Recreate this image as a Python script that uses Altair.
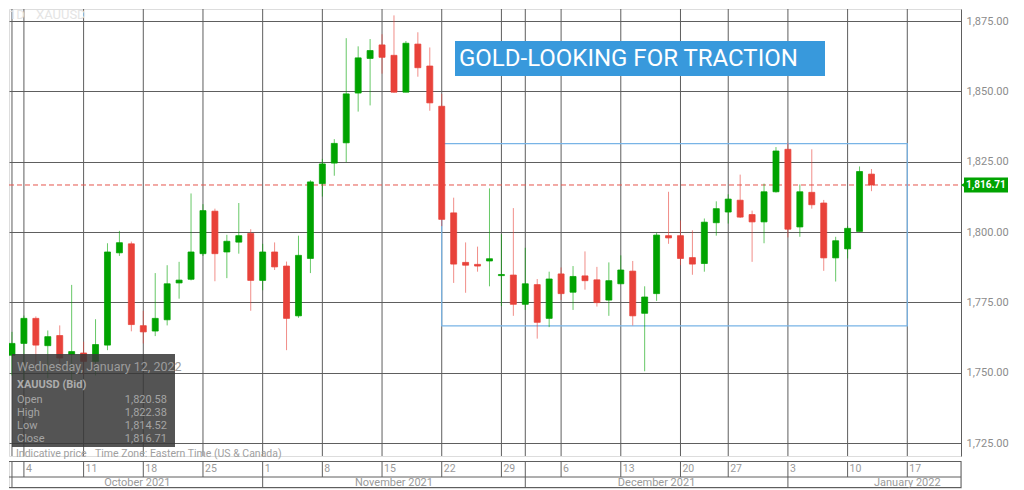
import altair as alt
import pandas as pd

# ---------------- data ----------------
dates = ["2021-09-30", "2021-10-01", "2021-10-04", "2021-10-05", "2021-10-06", "2021-10-07", "2021-10-08",
         "2021-10-11", "2021-10-12", "2021-10-13", "2021-10-14", "2021-10-15",
         "2021-10-18", "2021-10-19", "2021-10-20", "2021-10-21", "2021-10-22",
         "2021-10-25", "2021-10-26", "2021-10-27", "2021-10-28", "2021-10-29",
         "2021-11-01", "2021-11-02", "2021-11-03", "2021-11-04", "2021-11-05",
         "2021-11-08", "2021-11-09", "2021-11-10", "2021-11-11", "2021-11-12",
         "2021-11-15", "2021-11-16", "2021-11-17", "2021-11-18", "2021-11-19",
         "2021-11-22", "2021-11-23", "2021-11-24", "2021-11-25", "2021-11-26",
         "2021-11-29", "2021-11-30", "2021-12-01", "2021-12-02", "2021-12-03",
         "2021-12-06", "2021-12-07", "2021-12-08", "2021-12-09", "2021-12-10",
         "2021-12-13", "2021-12-14", "2021-12-15", "2021-12-16", "2021-12-17",
         "2021-12-20", "2021-12-21", "2021-12-22", "2021-12-23",
         "2021-12-27", "2021-12-28", "2021-12-29", "2021-12-30", "2021-12-31",
         "2022-01-03", "2022-01-04", "2022-01-05", "2022-01-06", "2022-01-07",
         "2022-01-10", "2022-01-11", "2022-01-12"]
opens = [1726.0, 1756.2, 1760.4, 1769.3, 1759.6, 1763.2, 1756.5,
         1757.0, 1754.0, 1759.8, 1792.6, 1795.8,
         1766.7, 1764.8, 1768.8, 1781.9, 1783.2,
         1792.3, 1807.4, 1792.9, 1796.4, 1799.5,
         1782.8, 1792.9, 1787.9, 1770.2, 1790.6,
         1817.2, 1824.5, 1831.7, 1849.4, 1861.7,
         1866.5, 1862.8, 1849.7, 1866.8, 1859.0,
         1844.7, 1806.8, 1789.2, 1788.5, 1789.7,
         1784.5, 1784.7, 1774.3, 1781.3, 1769.3,
         1785.1, 1778.6, 1784.4, 1783.0, 1775.8,
         1781.6, 1786.1, 1771.1, 1778.1, 1798.7,
         1798.7, 1790.9, 1788.8, 1803.3,
         1807.1, 1811.3, 1806.2, 1803.6, 1814.3,
         1829.4, 1801.8, 1814.1, 1810.3, 1790.8,
         1794.0, 1800.2, 1820.58]
highs = [1764.0, 1764.5, 1770.3, 1770.0, 1765.0, 1766.8, 1781.2,
         1761.0, 1769.0, 1796.0, 1800.4, 1796.6,
         1772.0, 1785.4, 1788.2, 1789.4, 1813.7,
         1809.9, 1808.3, 1799.0, 1810.3, 1801.0,
         1795.8, 1796.3, 1789.5, 1798.7, 1818.4,
         1826.0, 1833.0, 1868.9, 1866.0, 1868.6,
         1870.3, 1877.0, 1867.9, 1871.0, 1865.6,
         1849.1, 1812.2, 1796.3, 1794.8, 1815.5,
         1799.2, 1808.5, 1794.4, 1783.3, 1785.9,
         1787.4, 1787.9, 1793.1, 1787.6, 1789.2,
         1791.7, 1789.7, 1780.7, 1799.7, 1814.3,
         1804.1, 1800.6, 1804.8, 1810.9,
         1813.4, 1820.4, 1807.6, 1817.2, 1830.2,
         1831.7, 1816.9, 1829.4, 1811.4, 1798.3,
         1802.1, 1823.3, 1822.38]
lows = [1721.0, 1749.0, 1746.0, 1751.0, 1748.0, 1751.0, 1746.0,
        1749.0, 1749.0, 1758.0, 1791.5, 1764.7,
        1760.4, 1763.0, 1766.8, 1776.3, 1782.8,
        1791.5, 1782.5, 1783.6, 1792.3, 1772.0,
        1779.3, 1786.5, 1758.0, 1769.5, 1785.4,
        1812.6, 1820.0, 1824.8, 1842.8, 1845.0,
        1856.3, 1849.5, 1849.7, 1855.2, 1843.1,
        1802.1, 1781.9, 1778.4, 1785.9, 1780.7,
        1773.7, 1770.2, 1772.3, 1762.1, 1766.2,
        1775.8, 1772.3, 1779.5, 1773.5, 1770.2,
        1781.6, 1766.8, 1750.5, 1775.5, 1795.8,
        1788.2, 1784.8, 1785.9, 1798.7,
        1803.0, 1805.0, 1789.4, 1796.0, 1814.0,
        1798.1, 1798.3, 1808.3, 1786.2, 1782.4,
        1790.6, 1800.2, 1814.52]
closes = [1757.0, 1760.4, 1769.3, 1759.8, 1762.8, 1755.2, 1757.5,
          1754.0, 1760.0, 1792.9, 1796.2, 1767.1,
          1764.5, 1769.3, 1781.6, 1782.9, 1792.9,
          1807.6, 1792.3, 1796.7, 1798.7, 1782.8,
          1792.9, 1787.6, 1769.3, 1791.7, 1817.8,
          1824.2, 1831.5, 1849.1, 1861.9, 1864.5,
          1862.1, 1849.7, 1867.1, 1858.4, 1845.9,
          1804.5, 1788.6, 1788.2, 1787.9, 1790.5,
          1784.9, 1774.3, 1781.6, 1767.9, 1783.3,
          1778.1, 1784.2, 1782.7, 1774.9, 1782.7,
          1786.5, 1770.2, 1776.9, 1798.9, 1797.9,
          1790.6, 1788.6, 1803.5, 1808.3,
          1811.7, 1805.3, 1803.6, 1814.3, 1828.8,
          1801.0, 1814.3, 1809.7, 1790.8, 1796.9,
          1801.3, 1821.5, 1816.71]

# x-axis (trading-day index) ticks and labels
tick_pos = [2, 7, 12, 17, 22, 27, 32, 37, 42, 47, 52, 57, 61, 66, 71, 76, 81]
tick_text = ["4", "11", "18", "25", "1", "8", "15", "22", "29", "6", "13", "20", "27", "3", "10", "17", "24"]
month_bounds = [1, 22, 44, 66]
month_names = ["October 2021", "November 2021", "December 2021", "January 2022"]
month_label_pos = [11.5, 33, 55, 76]
y_ticks = [1725, 1750, 1775, 1800, 1825, 1850, 1875]

# highlighted consolidation range
box_x = [37, 76]
box_y = [1766.6, 1831.4]

# ---------------- styling ----------------
W, H = 952, 447
STRIP_H = 27
XDOM = [0.75, 80.5]
YDOM = [1720.38, 1879.27]
GREEN = "#00a300"
RED = "#e8423a"
GRID = "#5e5e5e"
FONT = "Roboto"

df = pd.DataFrame({"i": list(range(len(dates))), "date": dates,
                   "open": opens, "high": highs, "low": lows, "close": closes})
df["dir"] = ["up" if c >= o else "down" for o, c in zip(opens, closes)]

xs = alt.Scale(domain=XDOM, nice=False, zero=False, padding=0)
ys = alt.Scale(domain=YDOM, nice=False, zero=False, padding=0)
col = alt.Color("dir:N", scale=alt.Scale(domain=["up", "down"], range=[GREEN, RED]), legend=None)
one = pd.DataFrame({"a": [0]})

yaxis = alt.Axis(orient="right", values=y_ticks, format=",.2f", grid=True, gridColor=GRID,
                 gridWidth=1, gridOpacity=1, domain=True, domainColor=GRID, ticks=False,
                 labelPadding=5, labelColor="#8c8c8c", labelFont=FONT, labelFontSize=11, title=None)


def X(field):
    return alt.X(field, scale=xs, axis=None)


def Y(field):
    return alt.Y(field, scale=ys, axis=yaxis)


# vertical grid lines (Mondays + month starts)
vgrid = alt.Chart(pd.DataFrame({"g": tick_pos + [1, 44]})).mark_rule(
    color=GRID, strokeWidth=1, clip=True).encode(
    x=X("g:Q"), y=alt.value(0), y2=alt.value(H))

last_close = closes[-1]
price_df = pd.DataFrame({"p": [last_close], "t": [f"{last_close:,.2f}"]})

price_line = alt.Chart(price_df).mark_rule(color="#e5544c", strokeDash=[5, 3], strokeWidth=1).encode(
    y=Y("p:Q"), x=alt.value(0), x2=alt.value(W))

range_box = alt.Chart(pd.DataFrame({"x1": [box_x[0]], "x2": [box_x[1]], "y1": [box_y[0]], "y2": [box_y[1]]})
                      ).mark_rect(fillOpacity=0, stroke="#78b4e6", strokeWidth=1.2).encode(
    x=X("x1:Q"), x2="x2:Q", y=Y("y1:Q"), y2="y2:Q")

wicks = alt.Chart(df).mark_rule(strokeWidth=1, opacity=0.6, clip=True).encode(
    x=X("i:Q"), y=Y("low:Q"), y2="high:Q", color=col)

bodies = alt.Chart(df).mark_bar(size=6, clip=True, strokeWidth=1, strokeOpacity=0.75).encode(
    x=X("i:Q"), y=Y("open:Q"), y2="close:Q", color=col, stroke=col)

# title banner
title_box = alt.Chart(one).mark_rect(color="#3899dc").encode(
    x=alt.value(446), x2=alt.value(816), y=alt.value(32), y2=alt.value(67))
title_txt = alt.Chart(one).mark_text(text="GOLD-LOOKING FOR TRACTION", font=FONT, fontSize=24,
                                     color="white", align="left", baseline="middle").encode(
    x=alt.value(450), y=alt.value(50))

# info panel
tip_box = alt.Chart(one).mark_rect(color="#383838", opacity=0.86).encode(
    x=alt.value(3), x2=alt.value(166), y=alt.value(345), y2=alt.value(438))
tip_layers = [
    alt.Chart(one).mark_text(text="Wednesday, January 12, 2022", font=FONT, fontSize=12.5,
                             color="#9c9c9c", align="left", baseline="middle").encode(
        x=alt.value(8), y=alt.value(358)),
    alt.Chart(one).mark_text(text="XAUUSD (Bid)", font=FONT, fontSize=11, fontWeight="bold",
                             color="#acacac", align="left", baseline="middle").encode(
        x=alt.value(8), y=alt.value(376)),
]
tip_labels = ["Open", "High", "Low", "Close"]
tip_vals = [f"{v:,.2f}" for v in (opens[-1], highs[-1], lows[-1], closes[-1])]
for k, (lab, val) in enumerate(zip(tip_labels, tip_vals)):
    yy = 391 + 13 * k
    tip_layers.append(alt.Chart(one).mark_text(text=lab, font=FONT, fontSize=11, color="#a4a4a4",
                                               align="left", baseline="middle").encode(
        x=alt.value(8), y=alt.value(yy)))
    tip_layers.append(alt.Chart(one).mark_text(text=val, font=FONT, fontSize=11, color="#a4a4a4",
                                               align="right", baseline="middle").encode(
        x=alt.value(158), y=alt.value(yy)))

foot1 = alt.Chart(one).mark_text(text="Indicative price", font=FONT, fontSize=10.5, color="#a0a0a0",
                                 align="left", baseline="middle").encode(x=alt.value(7), y=alt.value(445))
foot2 = alt.Chart(one).mark_text(text="Time Zone: Eastern Time (US & Canada)", font=FONT, fontSize=10.5,
                                 color="#a0a0a0", align="left", baseline="middle").encode(
    x=alt.value(86), y=alt.value(445))

sym1 = alt.Chart(one).mark_text(text="1D", font=FONT, fontSize=13, color="#e4e4e4",
                                align="left", baseline="middle").encode(x=alt.value(0), y=alt.value(6))
sym2 = alt.Chart(one).mark_text(text="XAUUSD", font=FONT, fontSize=13, color="#e4e4e4",
                                align="left", baseline="middle").encode(x=alt.value(27), y=alt.value(6))

# last-price tag on the axis
tag_bar = alt.Chart(price_df).mark_rule(color=GREEN, strokeWidth=15).encode(
    y=Y("p:Q"), x=alt.value(W + 3), x2=alt.value(W + 47))
tag_arrow = alt.Chart(price_df).mark_point(shape="triangle-left", filled=True, size=24,
                                           color=GREEN, opacity=1).encode(
    y=Y("p:Q"), x=alt.value(W + 2))
tag_txt = alt.Chart(price_df).mark_text(font=FONT, fontSize=10, fontWeight="bold", color="white",
                                        align="left", baseline="middle").encode(
    y=Y("p:Q"), x=alt.value(W + 5), text="t:N")

top = alt.layer(vgrid, price_line, range_box, wicks, bodies, title_box, title_txt,
                tip_box, *tip_layers, foot1, foot2, sym1, sym2,
                tag_bar, tag_arrow, tag_txt).properties(width=W, height=H)

# ---------------- bottom date strip ----------------
ROW1 = 16
hl = [alt.Chart(one).mark_rule(color=GRID, strokeWidth=1).encode(
    x=alt.value(0), x2=alt.value(W), y=alt.value(v)) for v in (0.5, ROW1, STRIP_H - 0.5)]
tick_df = pd.DataFrame({"pos": tick_pos, "lab": tick_text})
row1_rules = alt.Chart(pd.DataFrame({"g": tick_pos + [1, 44]})).mark_rule(
    color=GRID, strokeWidth=1, clip=True).encode(
    x=X("g:Q"), y=alt.value(0), y2=alt.value(ROW1))
row2_rules = alt.Chart(pd.DataFrame({"g": month_bounds})).mark_rule(
    color=GRID, strokeWidth=1, clip=True).encode(
    x=X("g:Q"), y=alt.value(ROW1), y2=alt.value(STRIP_H))
right_edge = alt.Chart(one).mark_rule(color=GRID, strokeWidth=1).encode(
    x=alt.value(W), y=alt.value(0), y2=alt.value(STRIP_H))
day_lab = alt.Chart(tick_df).mark_text(font=FONT, fontSize=10.5, color="#9a9a9a", align="left",
                                       baseline="middle", dx=2, clip=True).encode(
    x=X("pos:Q"), y=alt.value(8), text="lab:N")
month_lab = alt.Chart(pd.DataFrame({"pos": month_label_pos, "name": month_names})).mark_text(
    font=FONT, fontSize=11, color="#9a9a9a", align="center", baseline="middle").encode(
    x=X("pos:Q"), y=alt.value(21.5), text="name:N")

strip = alt.layer(*hl, row1_rules, row2_rules, right_edge, day_lab, month_lab).properties(
    width=W, height=STRIP_H)

chart = alt.vconcat(top, strip, spacing=0).properties(padding=0).configure_view(
    stroke=None).configure(font=FONT)

chart.save("out.html", embed_options={"renderer": "svg", "actions": False})
